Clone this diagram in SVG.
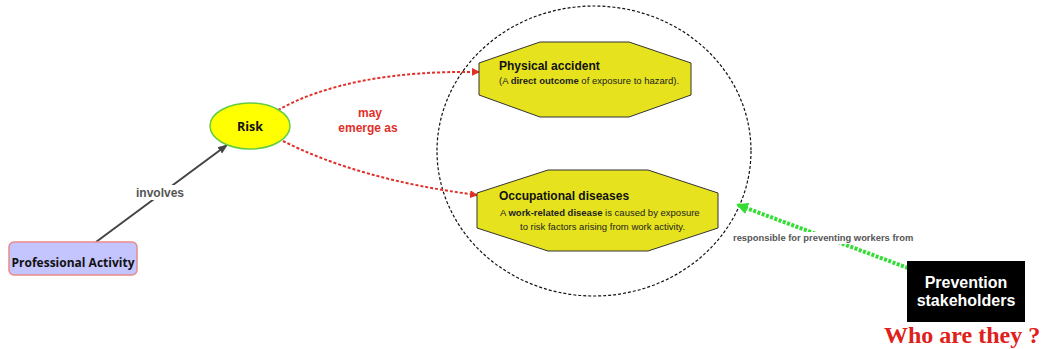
<svg xmlns="http://www.w3.org/2000/svg" width="1045" height="349" viewBox="0 0 1045 349">
<defs>
<style>
.sans{font-family:"Liberation Sans",Arial,sans-serif}
.oct{fill:#E6E31E;stroke:#333;stroke-width:1}
.t1{font-size:12px;font-weight:bold;fill:#111}
.t2{font-size:9.5px;fill:#222}
.red{stroke:#E0302A;stroke-width:2;stroke-dasharray:3,2;fill:none}
</style>
<marker id="ar" markerWidth="8" markerHeight="8" refX="7" refY="4" orient="auto" markerUnits="userSpaceOnUse"><path d="M0,0 L8,4 L0,8 z" fill="#E0302A"/></marker>
<marker id="ab" markerWidth="10" markerHeight="10" refX="9" refY="5" orient="auto" markerUnits="userSpaceOnUse"><path d="M0,1 L10,5 L0,9 z" fill="#444"/></marker>
<marker id="ag" markerWidth="12" markerHeight="12" refX="10" refY="6" orient="auto" markerUnits="userSpaceOnUse"><path d="M0,0 L12,6 L0,12 z" fill="#33DD33"/></marker>
</defs>
<rect width="1045" height="349" fill="#fff"/>
<g id="group-circle"><ellipse cx="594" cy="151" rx="157" ry="145" fill="none" stroke="#111" stroke-width="1.2" stroke-dasharray="3,2"/></g>
<g id="connectors">
<line x1="96" y1="242" x2="227" y2="145" stroke="#444" stroke-width="2" marker-end="url(#ab)"/>
<rect x="134" y="185" width="52" height="15" fill="#fff"/>
<text x="160" y="197" text-anchor="middle" class="sans" font-size="12" font-weight="bold" fill="#555">involves</text>
<path d="M278,110 Q350,70 479,72" class="red" marker-end="url(#ar)"/>
<path d="M283,141 Q360,180 477,195" class="red" marker-end="url(#ar)"/>
<text x="370" y="117" text-anchor="middle" class="sans" font-size="12" font-weight="bold" fill="#E0302A">may</text>
<text x="368" y="132" text-anchor="middle" class="sans" font-size="12" font-weight="bold" fill="#E0302A">emerge as</text>
<line x1="908" y1="268" x2="738" y2="205" stroke="#33DD33" stroke-width="4" stroke-dasharray="3,1.5" marker-end="url(#ag)"/>
<rect x="731" y="232" width="184" height="12" fill="#fff"/>
<text x="733" y="241" class="sans" font-size="9.4" font-weight="bold" fill="#555">responsible for preventing workers from</text>
</g>
<g id="professional-activity">
<rect x="9" y="242" width="128" height="33" rx="5" fill="#C4C4FF" stroke="#E88A8A" stroke-width="1.5"/>
<text x="73" y="267" text-anchor="middle" font-family="'Open Sans','Liberation Sans',sans-serif" font-size="12" font-weight="bold" fill="#111">Professional Activity</text>
</g>
<g id="risk">
<ellipse cx="250" cy="126" rx="40" ry="23" fill="#FFFF00" stroke="#66CC44" stroke-width="1.5"/>
<text x="250" y="131" text-anchor="middle" font-family="'Open Sans','Liberation Sans',sans-serif" font-size="12.5" font-weight="bold" fill="#111">Risk</text>
</g>
<g id="physical-accident">
<polygon class="oct" points="540,42 629,42 691,63 691,95 629,117 540,117 479,95 479,63"/>
<text x="499" y="70" class="sans t1">Physical accident</text>
<text x="499" y="84" class="sans t2">(A <tspan font-weight="bold">direct outcome</tspan> of exposure to hazard).</text>
</g>
<g id="occupational-diseases">
<polygon class="oct" points="548,170 648,170 718,193 718,228 648,251 548,251 477,228 477,193"/>
<text x="499" y="200" class="sans t1">Occupational diseases</text>
<text x="500" y="216" class="sans t2">A <tspan font-weight="bold">work-related disease</tspan> is caused by exposure</text>
<text x="520" y="230" class="sans t2">to risk factors arising from work activity.</text>
</g>
<g id="prevention-stakeholders">
<rect x="907" y="261" width="118" height="61" fill="#000"/>
<text x="966" y="288" text-anchor="middle" class="sans" font-size="16" font-weight="bold" fill="#fff">Prevention</text>
<text x="966" y="306" text-anchor="middle" class="sans" font-size="16" font-weight="bold" fill="#fff">stakeholders</text>
</g>
<text x="884" y="343" font-family="'Liberation Serif','Times New Roman',serif" font-size="24" font-weight="bold" fill="#E0201A">Who are they ?</text>
</svg>
